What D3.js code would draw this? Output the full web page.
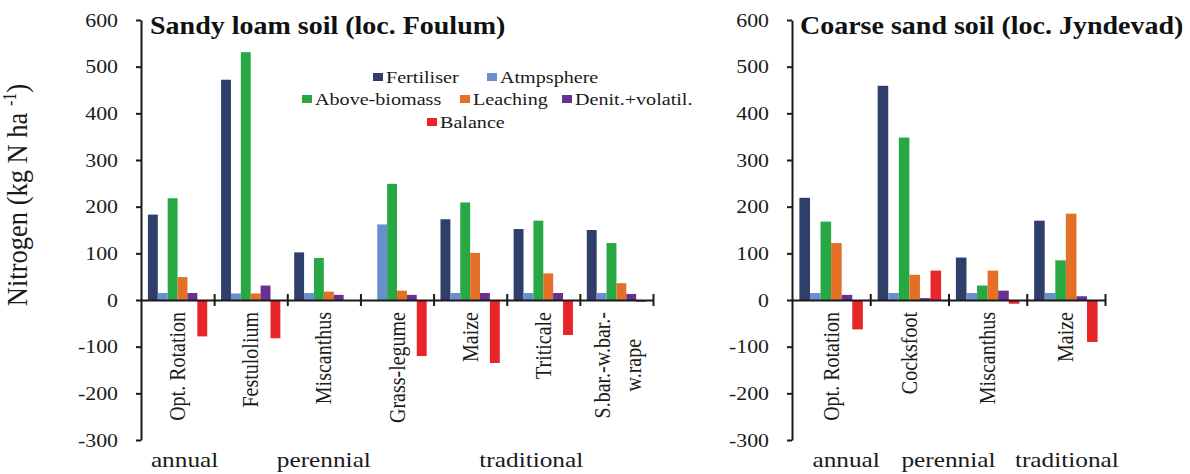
<!DOCTYPE html>
<html>
<head>
<meta charset="utf-8">
<script src="https://cdn.jsdelivr.net/npm/d3@7"></script>
<style>
  body { margin: 0; background: #fff; }
  svg { display: block; }
  svg text { font-family: "Liberation Serif", "Times New Roman", serif; }
  .axis path, .axis line { stroke: #1a1a1a; stroke-width: 2; }
</style>
</head>
<body>
<script>
'use strict';

// series (legend order)
const seriesNames = ['Fertiliser', 'Atmpsphere', 'Above-biomass', 'Leaching', 'Denit.+volatil.', 'Balance'];
const seriesColors = ['#2f3e6b', '#6b8fce', '#27a844', '#e46f26', '#6a2f93', '#e8262a'];

// Sandy loam soil (loc. Foulum)
const foulumCats = ['Opt. Rotation', 'Festulolium', 'Miscanthus', 'Grass-legume', 'Maize', 'Triticale', 'S.bar.-w.bar.-\nw.rape'];
const foulumFertiliser = [183, 472, 102, 0, 173, 152, 150];
const foulumAtmosphere = [15, 14, 15, 162, 15, 15, 15];
const foulumBiomass = [218, 531, 90, 249, 209, 170, 122];
const foulumLeaching = [49, 14, 18, 20, 101, 57, 36];
const foulumDenit = [15, 31, 11, 11, 15, 15, 13];
const foulumBalance = [-78, -82, 0, -120, -135, -75, -4];
const foulumGroups = ['annual', 'perennial', 'traditional'];
const foulumGroupSpans = [[0, 0], [1, 3], [4, 6]];

// Coarse sand soil (loc. Jyndevad)
const jyndevadCats = ['Opt. Rotation', 'Cocksfoot', 'Miscanthus', 'Maize'];
const jyndevadFertiliser = [219, 459, 91, 170];
const jyndevadAtmosphere = [15, 15, 15, 15];
const jyndevadBiomass = [168, 348, 31, 85];
const jyndevadLeaching = [122, 54, 63, 185];
const jyndevadDenit = [11, 4, 20, 8];
const jyndevadBalance = [-63, 63, -8, -90];
const jyndevadGroups = ['annual', 'perennial', 'traditional'];
const jyndevadGroupSpans = [[0, 0], [1, 2], [3, 3]];

const yTicks = [-300, -200, -100, 0, 100, 200, 300, 400, 500, 600];

const w = 1190;
const h = 474;
const sx = 1.15; // the source picture is stretched horizontally

const svg = d3.select('body').append('svg')
  .attr('width', w)
  .attr('height', h);

const y = d3.scaleLinear().domain([-300, 600]).range([440, 20]);

const panels = [
  {
    title: 'Sandy loam soil (loc. Foulum)', titleX: 150,
    cats: foulumCats, x0: 141, x1: 653,
    values: [foulumFertiliser, foulumAtmosphere, foulumBiomass, foulumLeaching, foulumDenit, foulumBalance],
    groups: foulumGroups, spans: foulumGroupSpans, groupShift: [7, 0, -12]
  },
  {
    title: 'Coarse sand soil (loc. Jyndevad)', titleX: 800,
    cats: jyndevadCats, x0: 792, x1: 1105,
    values: [jyndevadFertiliser, jyndevadAtmosphere, jyndevadBiomass, jyndevadLeaching, jyndevadDenit, jyndevadBalance],
    groups: jyndevadGroups, spans: jyndevadGroupSpans, groupShift: [15, 0, 1]
  }
];

// place a text with the horizontal stretch
function stretched(sel, x, yy, rot, s) {
  return sel.attr('transform', 'translate(' + x + ',' + yy + ') scale(' + (s || sx) + ',1)' + (rot ? ' rotate(' + rot + ')' : ''));
}

panels.forEach(function(p) {
  const g = svg.append('g');
  const x = d3.scaleBand().domain(p.cats).range([p.x0, p.x1]);
  const xi = d3.scaleBand().domain(seriesNames).range([0, x.bandwidth()]).paddingOuter(0.7);

  // bars
  seriesNames.forEach(function(s, si) {
    g.append('g').selectAll('rect')
      .data(p.values[si])
      .enter()
      .append('rect')
      .attr('x', (d, i) => x(p.cats[i]) + xi(s))
      .attr('y', d => y(Math.max(0, d)))
      .attr('width', xi.bandwidth())
      .attr('height', d => Math.abs(y(d) - y(0)))
      .attr('fill', seriesColors[si]);
  });

  // y axis
  const yAxis = g.append('g')
    .attr('class', 'axis')
    .attr('transform', 'translate(' + p.x0 + ',0)')
    .call(d3.axisLeft(y).tickValues(yTicks).tickSize(5).tickSizeOuter(0).tickFormat(d => String(d)));
  yAxis.selectAll('text')
    .attr('x', -20)
    .attr('transform', 'scale(' + sx + ',1)')
    .attr('font-size', 19)
    .attr('fill', '#1a1a1a');

  // x axis with crossing ticks at category boundaries
  const xl = d3.scaleLinear().domain([0, p.cats.length]).range([p.x0, p.x1]);
  const xAxis = g.append('g')
    .attr('class', 'axis')
    .attr('transform', 'translate(0,' + y(0) + ')')
    .call(d3.axisBottom(xl).tickValues(d3.range(1, p.cats.length + 1)).tickFormat('').tickSize(6).tickSizeOuter(0));
  xAxis.selectAll('.tick line').attr('y1', -6).attr('y2', 6);

  // category labels (rotated)
  p.cats.forEach(function(c) {
    const lines = c.split('\n');
    const cx = x(c) + x.bandwidth() / 2;
    const top = y(0) + 12;
    const t = stretched(g.append('text'), cx, top, -90)
      .attr('font-size', 20)
      .attr('fill', '#1a1a1a');
    if (lines.length === 1) {
      t.attr('text-anchor', 'end').attr('dy', '0.33em').text(c);
    } else {
      const first = t.append('tspan')
        .attr('text-anchor', 'end')
        .attr('x', 0)
        .attr('dy', '-0.3em')
        .text(lines[0]);
      const len = first.node().getComputedTextLength();
      t.append('tspan')
        .attr('text-anchor', 'middle')
        .attr('x', -len / 2)
        .attr('dy', '1.35em')
        .text(lines[1]);
    }
  });

  // group labels
  p.groups.forEach(function(gr, i) {
    const span = p.spans[i];
    const cx = (x(p.cats[span[0]]) + x(p.cats[span[1]]) + x.bandwidth()) / 2 + p.groupShift[i];
    stretched(g.append('text'), cx, 467)
      .attr('text-anchor', 'middle')
      .attr('font-size', 22)
      .attr('fill', '#1a1a1a')
      .text(gr);
  });

  // title
  stretched(g.append('text'), p.titleX, 34, 0, 1.12)
    .attr('font-size', 25)
    .attr('font-weight', 'bold')
    .attr('fill', '#111')
    .text(p.title);
});

// y axis title
const yTitle = stretched(svg.append('text'), 27, 195, -90)
  .attr('text-anchor', 'middle')
  .attr('font-size', 26.5)
  .attr('fill', '#1a1a1a');
yTitle.append('tspan').text('Nitrogen (kg N ha ');
yTitle.append('tspan').attr('font-size', 16).attr('dy', -10).text('-1');
yTitle.append('tspan').attr('dy', 10).text(')');

// legend
const legendPos = [[373, 77], [487, 77], [302, 99], [460, 99], [562, 99], [427, 122]];
const legend = svg.append('g');
seriesNames.forEach(function(s, i) {
  const lp = legendPos[i];
  legend.append('rect')
    .attr('x', lp[0])
    .attr('y', lp[1] - 4)
    .attr('width', 10)
    .attr('height', 8)
    .attr('fill', seriesColors[i]);
  stretched(legend.append('text'), lp[0] + 13, lp[1] + 6)
    .attr('font-size', 17.5)
    .attr('fill', '#1a1a1a')
    .text(s);
});
</script>
</body>
</html>
